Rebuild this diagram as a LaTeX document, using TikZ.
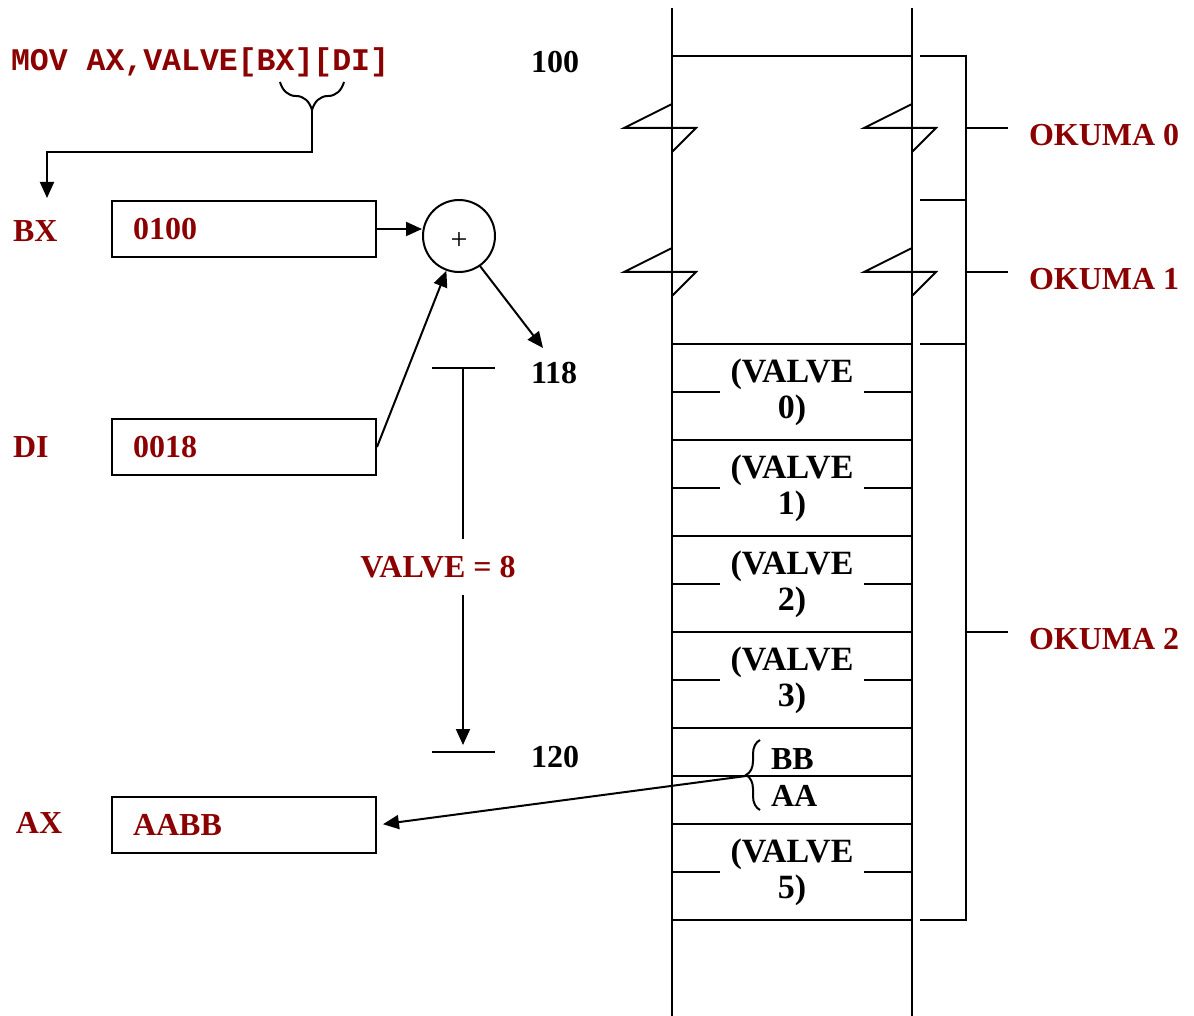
\documentclass[tikz,border=0pt]{standalone}
\usepackage{fontspec}
\setmainfont{Liberation Serif}
\setmonofont{Liberation Mono}
\usepackage{xcolor}
\definecolor{RegRed}{HTML}{8B0000}
\usetikzlibrary{arrows.meta,positioning,decorations.pathreplacing}

\begin{document}
\begin{tikzpicture}[x=0.5pt,y=-0.5pt,line width=1pt,
  lbl/.style={font=\fontsize{16}{18}\selectfont\bfseries,inner sep=0pt},
  reglbl/.style={lbl,text=RegRed,anchor=west},
  addrlbl/.style={lbl,anchor=west},
  regbox/.style={draw,font=\fontsize{16}{18}\selectfont\bfseries,
    text=RegRed,anchor=north west,minimum height=28pt,inner xsep=10.5pt,
    text width=111pt,align=left},
  celltxt/.style={lbl,font=\fontsize{17}{18}\selectfont\bfseries,
    align=center},
  arr/.style={-{Triangle[length=8pt,width=7pt]}}]
  \useasboundingbox (0,0) rectangle (1194,1016);
  % Instruction
  \node[lbl,font=\fontsize{15.75}{18}\selectfont\ttfamily\bfseries,
    text=RegRed,anchor=west]
    (instr) at (10,62) {MOV AX,VALVE[BX][DI]};
  \draw[decorate,decoration={brace,amplitude=14pt}] (344,82) -- (280,82);
  \coordinate (idxtip) at (312,110);
  \coordinate (bxin) at (47,198);
  \draw[arr] (idxtip) -- (312,152) -| (bxin);
  % Registers
  \node[reglbl] (bx) at (12,231) {BX};
  \node[regbox] (bxbox) at (111,200) {0100};
  \node[reglbl] (di) at (12,447) {DI};
  \node[regbox,below=80pt of bxbox] (dibox) {0018};
  \node[reglbl] (ax) at (15,823) {AX};
  \node[regbox,below=160pt of dibox] (axbox) {AABB};
  % Adder
  \node[draw,circle,minimum size=36pt,inner sep=0pt] (sum) at (459,236) {};
  \node[font=\fontsize{15}{18}\selectfont,inner sep=0pt,yshift=-2.5pt]
    (plus) at (sum.center) {+};
  \draw[arr] (bxbox.east) -- (bxbox.east -| sum.west);
  \draw[arr] (dibox.east) -- (sum.250);
  \coordinate (to118) at (543,348);
  \draw[arr] (sum.-55) -- (to118);
  % Addresses
  \node[addrlbl] (a100) at (530,62) {100};
  \node[addrlbl] (a118) at (530,373) {118};
  \node[addrlbl] (a120) at (530,757) {120};
  % Offset
  \coordinate (offtop) at (463,368);
  \coordinate (offbot) at (463,752);
  \draw (432,368) -- (495,368);
  \draw (432,752) -- (495,752);
  \node[lbl,text=RegRed,inner ysep=8pt] (off) at (438,567) {VALVE = 8};
  \draw (offtop) -- (offtop |- off.north);
  \draw[arr,shorten >=3.5pt] (off.south -| offbot) -- (offbot);
  % Memory column
  \draw (672,8) -- (672,1016);
  \draw (912,8) -- (912,1016);
  \foreach \y in {56,344,440,536,632,728,776,824,920}
    \draw (672,\y) -- (912,\y);
  % Breaks
  \foreach \y in {128,272} {
    \draw (672,\y-24) -- (624,\y) -- (696,\y) -- (672,\y+24);
    \draw (912,\y-24) -- (864,\y) -- (936,\y) -- (912,\y+24);
  }
  % Cells
  \foreach \i/\y in {0/392,1/488,2/584,3/680,5/872} {
    \node[celltxt] (val\i) at (792,\y) {(VALVE\\\i)};
    \draw (672,\y) -- (720,\y) (864,\y) -- (912,\y);
  }
  \node[addrlbl] (bb) at (770,759) {BB};
  \node[addrlbl] (aa) at (770,796) {AA};
  \draw[decorate,decoration={brace,amplitude=7pt}] (760,810) -- (760,740);
  \coordinate (bbtip) at (746,776);
  \draw[arr,shorten >=3pt] (bbtip) -- (axbox.east);
  % Segments
  \draw (920,56) -| (966,920) -- (920,920);
  \draw (920,200) -- (966,200);
  \draw (920,344) -- (966,344);
  \foreach \y/\k in {128/0,272/1,632/2} {
    \draw (966,\y) -- (1008,\y);
    \node[reglbl] (seg\k) at (1028,\y+7) {OKUMA \k};
  }
\end{tikzpicture}
\end{document}
